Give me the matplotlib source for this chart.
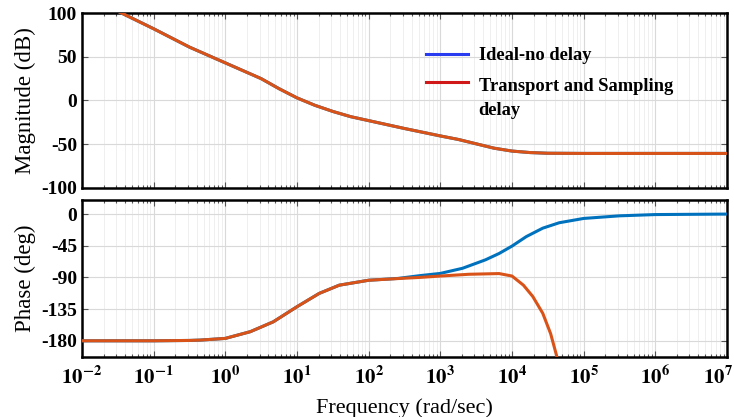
import numpy as np
import matplotlib
matplotlib.use("Agg")
import matplotlib.pyplot as plt
from matplotlib.lines import Line2D
from matplotlib.transforms import ScaledTranslation

# ---- data ----
mag_logw = [-2.0, -1.5, -1.0, -0.5, 0.0, 0.5, 0.75, 1.0, 1.25, 1.5, 1.75, 2.0, 2.5, 3.0, 3.25, 3.5,
            3.75, 4.0, 4.25, 4.5, 5.0, 6.0, 7.0]
mag_db   = [122, 102, 82, 61, 43, 25, 13.5, 3, -5.5, -12.5, -18.5, -23, -32, -40.5, -44.5, -49.5,
            -54.5, -57.8, -59.5, -60.3, -60.5, -60.5, -60.5]

ph_logw  = [-2.0, -1.0, -0.5, -0.35, 0.0, 0.35, 0.67, 1.0, 1.31, 1.59, 2.0, 2.41, 2.71, 3.0, 3.31,
            3.63, 3.82, 4.0, 4.2, 4.43, 4.66, 5.0, 5.5, 6.0, 7.0]
ph_ideal = [-180, -180, -179.5, -179, -176.6, -167, -153, -131.6, -112.7, -101, -94, -91.4, -87.5,
            -84.3, -77, -65, -56, -45.5, -32, -20, -12.3, -6.2, -2.5, -0.7, 0]
ph_delay_logw = [-2.0, -1.0, -0.5, -0.35, 0.0, 0.35, 0.67, 1.0, 1.31, 1.59, 2.0, 2.41, 2.71, 3.0, 3.4,
                 3.82, 4.0, 4.16, 4.29, 4.43, 4.54, 4.62, 4.7]
ph_delay = [-180, -180, -179.5, -179, -176.6, -167, -153, -131.6, -112.7, -101, -94, -91.6, -90,
            -88, -85.5, -84.5, -88, -101, -117, -141, -170, -200, -240]

xticks_exp = [-2, -1, 0, 1, 2, 3, 4, 5, 6, 7]
mag_ticks = [-100, -50, 0, 50, 100]
ph_ticks = [-180, -135, -90, -45, 0]
legend_labels = ["Ideal-no delay", "Transport and Sampling\ndelay"]

blue = "#0072BD"
orange = "#D95319"

plt.rcParams['font.family'] = ['Liberation Serif', 'DejaVu Serif']
plt.rcParams['mathtext.fontset'] = 'stix'

fig = plt.figure(figsize=(7.34, 4.17), dpi=100)
ax1 = fig.add_axes([0.1117, 0.5492, 0.8787, 0.4196])
ax2 = fig.add_axes([0.1117, 0.1439, 0.8787, 0.3765])

w_mag = 10.0 ** np.array(mag_logw)
w_ph = 10.0 ** np.array(ph_logw)
w_phd = 10.0 ** np.array(ph_delay_logw)

ax1.plot(w_mag, mag_db, color=blue, lw=2.2, zorder=3)
ax1.plot(w_mag, mag_db, color=orange, lw=2.2, zorder=4)
ax2.plot(w_ph, ph_ideal, color=blue, lw=2.2, zorder=3)
ax2.plot(w_phd, ph_delay, color=orange, lw=2.2, zorder=4)

for ax in (ax1, ax2):
    ax.set_xscale('log')
    ax.set_xlim(1e-2, 1e7)
    ax.grid(True, which='major', color='#d9d9d9', lw=0.8)
    ax.grid(True, which='minor', color='#ececec', lw=0.6)
    ax.set_axisbelow(True)
    for s in ax.spines.values():
        s.set_linewidth(1.8)
        s.set_color('black')
    ax.tick_params(which='both', direction='in', top=True, right=True, width=0.8, color='#555555')
    ax.tick_params(which='major', length=4)
    ax.tick_params(which='minor', length=2)
    ax.set_xticks([10.0 ** e for e in xticks_exp])

ax1.set_ylim(-100, 100)
ax1.set_yticks(mag_ticks)
ax1.set_yticklabels([str(t) for t in mag_ticks], fontsize=14, fontweight='bold')
ax1.tick_params(axis='x', which='both', labelbottom=False)
ax1.set_ylabel("Magnitude (dB)", fontsize=16.5, labelpad=4)

ax2.set_ylim(-203, 20)
ax2.set_yticks(ph_ticks)
ax2.set_yticklabels([str(t) for t in ph_ticks], fontsize=14, fontweight='bold')
ax2.set_xticklabels([r"$\mathbf{10^{%d}}$" % e for e in xticks_exp], fontsize=15)
ax2.tick_params(axis='x', which='major', pad=7)
ax2.set_ylabel("Phase (deg)", fontsize=16.5, labelpad=4)
ax2.set_xlabel("Frequency (rad/sec)", fontsize=16, labelpad=6)

# keep the last tick label inside the figure
last = ax2.get_xticklabels()[-1]
last.set_horizontalalignment('right')
last.set_transform(last.get_transform() + ScaledTranslation(6 / 100, 0, fig.dpi_scale_trans))

# legend drawn in axes coordinates
ax1.add_line(Line2D([0.533, 0.599], [0.763, 0.763], color='#2a3cf0', lw=2.2, transform=ax1.transAxes))
ax1.add_line(Line2D([0.533, 0.599], [0.607, 0.607], color='#d01818', lw=2.2, transform=ax1.transAxes))
ax1.text(0.615, 0.757, legend_labels[0], transform=ax1.transAxes, fontsize=13.3, fontweight='bold',
         va='center', ha='left')
ax1.text(0.615, 0.511, legend_labels[1], transform=ax1.transAxes, fontsize=13.3, fontweight='bold',
         va='center', ha='left', linespacing=1.6)

fig.savefig("out.png", dpi=100)
